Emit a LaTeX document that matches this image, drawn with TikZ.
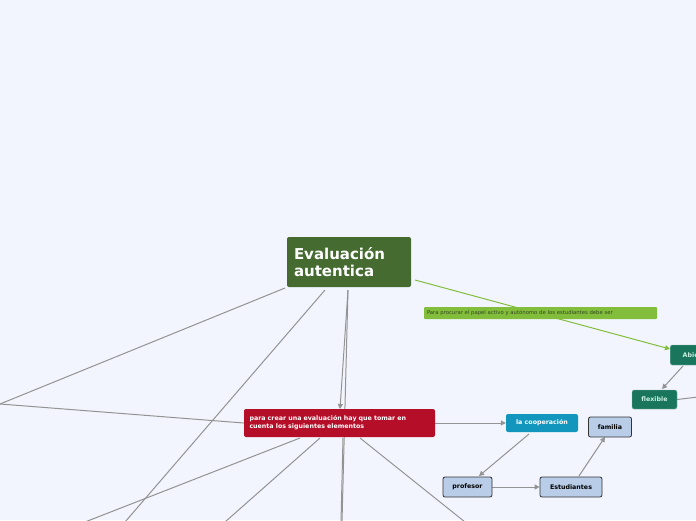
\documentclass[tikz,border=0pt]{standalone}
\usepackage{fontspec}
\setmainfont{DejaVu Sans}
\usetikzlibrary{arrows.meta,backgrounds}
\begin{document}
\begin{tikzpicture}[x=1pt,y=-1pt,
 box/.style={rounded corners=2pt,inner sep=0pt,font=\bfseries},
 con/.style={draw=gray!85,line width=1pt},
 arr/.style={con,-{Triangle[length=5pt,width=5pt]}}]
\definecolor{mg}{RGB}{69,107,49}
\definecolor{rd}{RGB}{181,14,41}
\definecolor{cy}{RGB}{18,150,190}
\definecolor{tl}{RGB}{26,117,93}
\definecolor{lb}{RGB}{185,205,232}
\definecolor{lg}{RGB}{130,190,60}
\useasboundingbox (0,0) rectangle (696,520);
\clip (0,0) rectangle (696,520);
% nodes
\node[box,fill=mg,text=white,minimum width=124pt,minimum height=50pt,align=left,font=\bfseries\fontsize{15}{17}\selectfont,text width=110pt] (main) at (349,262) {Evaluación\\autentica};
\node[box,fill=rd,text=white,minimum width=191pt,minimum height=28pt,align=left,text width=180pt,font=\bfseries\fontsize{6.3}{8}\selectfont] (red) at (339.5,423) {para crear una evaluación hay que tomar en cuenta los siguientes elementos};
\node[box,fill=cy,text=white,minimum width=72pt,minimum height=18pt,font=\bfseries\fontsize{6.3}{8}\selectfont] (coop) at (542,423) {la cooperación};
\node[box,draw=black!80,line width=0.8pt,fill=lb,minimum width=43pt,minimum height=20pt,font=\bfseries\fontsize{6.3}{8}\selectfont] (fam) at (610,427) {familia};
\node[box,draw=black!80,line width=0.8pt,fill=lb,minimum width=49pt,minimum height=20pt,font=\bfseries\fontsize{6.3}{8}\selectfont] (prof) at (467.5,487) {profesor};
\node[box,draw=black!80,line width=0.8pt,fill=lb,minimum width=62pt,minimum height=20pt,font=\bfseries\fontsize{6.3}{8}\selectfont] (est) at (571,487) {Estudiantes};
\node[box,fill=tl,draw=tl!50!white,text={rgb,255:red,200;green,240;blue,225},minimum width=40pt,minimum height=20pt,anchor=west,font=\bfseries\fontsize{6.3}{8}\selectfont] (abier) at (670,355) {\hspace*{7pt}Abiert};
\node[box,fill=tl,draw=tl!50!white,text={rgb,255:red,200;green,240;blue,225},minimum width=45pt,minimum height=19pt,font=\bfseries\fontsize{6.3}{8}\selectfont] (flex) at (654.5,399.5) {flexible};
\node[box,fill=lg,rounded corners=1pt,minimum width=233pt,minimum height=12pt,text width=227pt,align=left,font=\fontsize{5.3}{6}\selectfont,text={rgb,255:red,50;green,70;blue,30}] (lbl) at (540.5,313) {Para procurar el papel activo y autónomo de los estudiantes debe ser};
% free ends
\coordinate (L) at (0,404);
\coordinate (b1) at (125,522);
\coordinate (b2) at (342,522);
\coordinate (r1) at (85,522);
\coordinate (r2) at (225,522);
\coordinate (r3) at (341,522);
\coordinate (r4) at (465,522);
\coordinate (fr) at (698,397);
\begin{pgfonlayer}{background}
\fill[fill={rgb,255:red,242;green,245;blue,253}] (0,0) rectangle (696,520);
\draw[con] (285,288) -- (L);
\draw[con] (L) -- (red.west);
\draw[con] (325,290) -- (b1);
\draw[arr] (348,290) -- (340,409);
\draw[con] (348,290) -- (b2);
\draw[con] (300,438) -- (r1);
\draw[con] (320,438) -- (r2);
\draw[con] (r3) -- (343,438);
\draw[con] (360,438) -- (r4);
\draw[arr] (red.east) -- (coop.west);
\draw[arr] (529,434) -- (479,476);
\draw[arr] (prof.east) -- (est.west);
\draw[arr] (579,476) -- (605,437);
\draw[arr] (683,366) -- (662,389);
\draw[con] (flex.east) -- (fr);
\draw[draw=lg,line width=1pt,-{Triangle[length=5pt,width=5pt]}] (415,280) -- (670,349);
\end{pgfonlayer}
\end{tikzpicture}
\end{document}
